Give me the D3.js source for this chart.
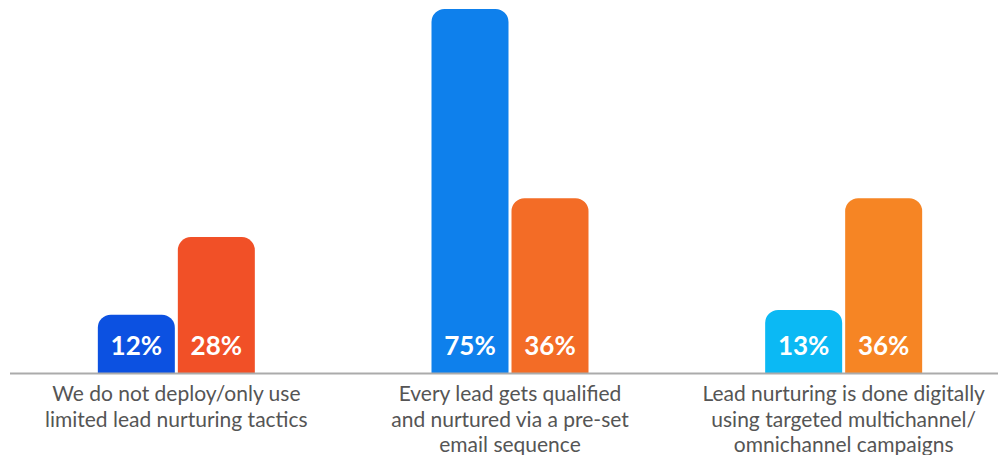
<!DOCTYPE html>
<html>
<head>
<meta charset="utf-8">
<script src="https://cdn.jsdelivr.net/npm/d3@7"></script>
<style>
  html, body { margin: 0; padding: 0; background: #fff; }
  svg { display: block; }
</style>
</head>
<body>
<svg id="chart" width="998" height="455"></svg>
<script>
// Lead nurturing approaches: two survey results per approach
const categories = [
  ["We do not deploy/only use", "limited lead nurturing tactics"],
  ["Every lead gets qualified", "and nurtured via a pre-set", "email sequence"],
  ["Lead nurturing is done digitally", "using targeted multichannel/", "omnichannel campaigns"]
];
const seriesA = [12, 75, 13];
const seriesB = [28, 36, 36];

const colorsA = ["#0c51e1", "#0e80ec", "#0bb9f4"];
const colorsB = ["#f15027", "#f36c26", "#f68524"];

const svg = d3.select("#chart");
const baseY = 373;
const topY = 9;

const x0 = d3.scaleBand()
  .domain(d3.range(categories.length))
  .range([9.5, 1010.5])
  .paddingInner(0)
  .paddingOuter(0);

const y = d3.scaleLinear().domain([0, 75]).range([baseY, topY]);

const barW = 77, gap = 3, r = 13;

function roundedTop(x, yTop, w, h, rad) {
  const p = d3.path();
  const rr = Math.min(rad, h, w / 2);
  p.moveTo(x, yTop + h);
  p.lineTo(x, yTop + rr);
  p.arcTo(x, yTop, x + rr, yTop, rr);
  p.lineTo(x + w - rr, yTop);
  p.arcTo(x + w, yTop, x + w, yTop + rr, rr);
  p.lineTo(x + w, yTop + h);
  p.closePath();
  return p.toString();
}

const bars = [];
categories.forEach((c, i) => {
  const cx = x0(i) + x0.bandwidth() / 2;
  bars.push({ x: cx - gap / 2 - barW, v: seriesA[i], color: colorsA[i] });
  bars.push({ x: cx + gap / 2, v: seriesB[i], color: colorsB[i] });
});

svg.append("g").selectAll("path")
  .data(bars)
  .join("path")
  .attr("d", d => roundedTop(d.x, y(d.v), barW, baseY - y(d.v), r))
  .attr("fill", d => d.color);

svg.append("g").selectAll("text")
  .data(bars)
  .join("text")
  .attr("x", d => d.x + barW / 2)
  .attr("y", 355)
  .attr("text-anchor", "middle")
  .attr("fill", "#fff")
  .attr("font-family", "Lato, 'Noto Sans', sans-serif")
  .attr("font-weight", "bold")
  .attr("font-size", 26)
  .text(d => d.v + "%");

// baseline
svg.append("line")
  .attr("x1", 10).attr("x2", 998)
  .attr("y1", baseY + 0.5).attr("y2", baseY + 0.5)
  .attr("stroke", "#ababab")
  .attr("stroke-width", 2);

// category labels
const labels = svg.append("g").selectAll("text")
  .data(categories)
  .join("text")
  .attr("text-anchor", "middle")
  .attr("fill", "#555")
  .attr("font-family", "Lato, 'Noto Sans', sans-serif")
  .attr("font-size", 21)
  .attr("transform", (d, i) => `translate(${x0(i) + x0.bandwidth() / 2},401)`);

labels.selectAll("tspan")
  .data(d => d)
  .join("tspan")
  .attr("x", 0)
  .attr("dy", (d, i) => i === 0 ? 0 : 25.5)
  .text(d => d);
</script>
</body>
</html>
